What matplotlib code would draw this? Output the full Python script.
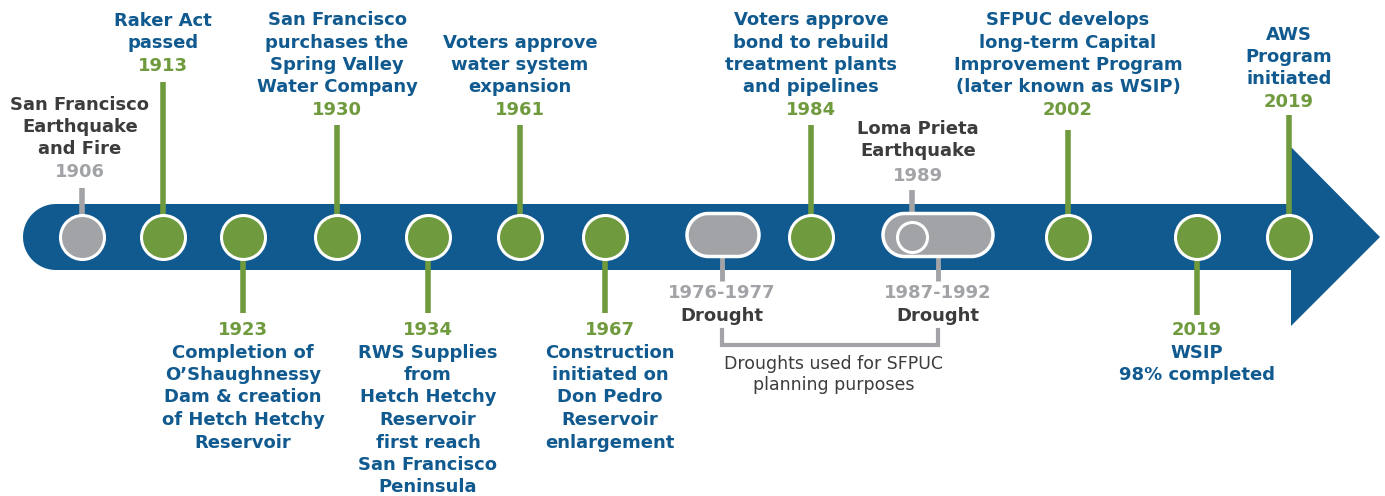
import numpy as np
import matplotlib.pyplot as plt
from matplotlib.patches import Polygon

BLUE = '#115a8f'
GREEN = '#6f9a3e'
GRAY = '#a1a3a6'
DARK = '#3c3c3c'

# events above / below the timeline
years = ['1906', '1913', '1923', '1930', '1934', '1961', '1967', '1984', '1989', '2002', '2019', '2019']
labels = [
    ['San Francisco', 'Earthquake', 'and Fire'],
    ['Raker Act', 'passed'],
    ['Completion of', 'O\u2019Shaughnessy', 'Dam & creation', 'of Hetch Hetchy', 'Reservoir'],
    ['San Francisco', 'purchases the', 'Spring Valley', 'Water Company'],
    ['RWS Supplies', 'from', 'Hetch Hetchy', 'Reservoir', 'first reach', 'San Francisco', 'Peninsula'],
    ['Voters approve', 'water system', 'expansion'],
    ['Construction', 'initiated on', 'Don Pedro', 'Reservoir', 'enlargement'],
    ['Voters approve', 'bond to rebuild', 'treatment plants', 'and pipelines'],
    ['Loma Prieta', 'Earthquake'],
    ['SFPUC develops', 'long-term Capital', 'Improvement Program', '(later known as WSIP)'],
    ['WSIP', '98% completed'],
    ['AWS', 'Program', 'initiated'],
]
sides = ['up', 'up', 'down', 'up', 'down', 'up', 'down', 'up', 'up', 'up', 'down', 'up']
kinds = ['gray', 'green', 'green', 'green', 'green', 'green', 'green', 'green', 'gray', 'green', 'green', 'green']

# droughts
drought_years = ['1976-1977', '1987-1992']
drought_note = ['Droughts used for SFPUC', 'planning purposes']

# layout (pixel space)
x_pos = [82, 163, 243, 337, 428, 520, 605, 811, 912, 1068, 1197, 1289]
text_dx = [-2, 0, 0, 0, 0, 0, 5, 0, 6, 0, 0, 0]
top_year_y = [172, 66, 330, 110, 330, 110, 330, 110, 176, 110, 330, 102]
stem_end = [188, 82, 313, 125, 313, 125, 313, 125, 190, 130, 315, 115]
drought_pill = [(687, 759), (883, 993)]
drought_x = [722, 938]
yc = 237
lh = 22.5


def stadium(x0, x1, y, r, left=True, right=True):
    t = np.linspace(np.pi / 2, 3 * np.pi / 2, 40)
    pts = []
    if left:
        pts += list(zip(x0 + r + r * np.cos(t), y - r * np.sin(t)))
    else:
        pts += [(x0, y - r), (x0, y + r)]
    if right:
        pts += list(zip(x1 - r - r * np.cos(t), y + r * np.sin(t)))
    else:
        pts += [(x1, y + r), (x1, y - r)]
    return pts


fig = plt.figure(figsize=(13.85, 4.96), dpi=100)
ax = fig.add_axes([0, 0, 1, 1])
ax.set_xlim(0, 1385)
ax.set_ylim(496, 0)
ax.axis('off')

# band with rounded left end and arrow head
ax.add_patch(Polygon(stadium(23, 1295, yc, 33, right=False), fc=BLUE, ec='none', zorder=1))
ax.add_patch(Polygon([[1291, 147], [1380, yc], [1291, 326]], fc=BLUE, ec='none', zorder=1))

# drought pills
for (x0, x1), dx in zip(drought_pill, drought_x):
    ax.add_patch(Polygon(stadium(x0, x1, 235, 21.5), fc=GRAY, ec='white', lw=2.5, zorder=3))
    ax.plot([dx, dx], [256, 281], color=GRAY, lw=3.5, zorder=2, solid_capstyle='butt')

for dx, yr in zip(drought_x, drought_years):
    ax.text(dx, 293, yr, ha='center', va='center', fontsize=13, fontweight='bold', color=GRAY)
    ax.text(dx, 316, 'Drought', ha='center', va='center', fontsize=13, fontweight='bold', color=DARK)

# bracket connecting droughts
ax.plot([drought_x[0], drought_x[0], drought_x[1], drought_x[1]], [330, 345, 345, 330],
        color=GRAY, lw=3, zorder=2, solid_joinstyle='miter')
mid = (drought_x[0] + drought_x[1]) / 2 + 4
ax.text(mid, 364, drought_note[0], ha='center', va='center', fontsize=12.5, color=DARK)
ax.text(mid, 385, drought_note[1], ha='center', va='center', fontsize=12.5, color=DARK)

# events
for i, yr in enumerate(years):
    col = GREEN if kinds[i] == 'green' else GRAY
    txt_col = BLUE if kinds[i] == 'green' else DARK
    x = x_pos[i]
    small = years[i] == '1989'
    r = 15 if small else 22
    if sides[i] == 'up':
        ax.plot([x, x], [stem_end[i], yc - r], color=col, lw=4, zorder=2, solid_capstyle='butt')
    else:
        ax.plot([x, x], [yc + r, stem_end[i]], color=col, lw=4, zorder=2, solid_capstyle='butt')
    ax.scatter([x], [yc], s=(2 * r * 0.72) ** 2, color=col, edgecolor='white',
               linewidth=2.2, zorder=4)
    tx = x + text_dx[i]
    yy = top_year_y[i]
    ax.text(tx, yy, yr, ha='center', va='center', fontsize=13, fontweight='bold', color=col)
    n = len(labels[i])
    for j, line in enumerate(labels[i]):
        if sides[i] == 'up':
            ly = yy - (n - j) * lh - (2 if small else 0)
        else:
            ly = yy + (j + 1) * lh
        ax.text(tx, ly, line, ha='center', va='center', fontsize=13, fontweight='bold', color=txt_col)

fig.savefig('out.png', dpi=100)
